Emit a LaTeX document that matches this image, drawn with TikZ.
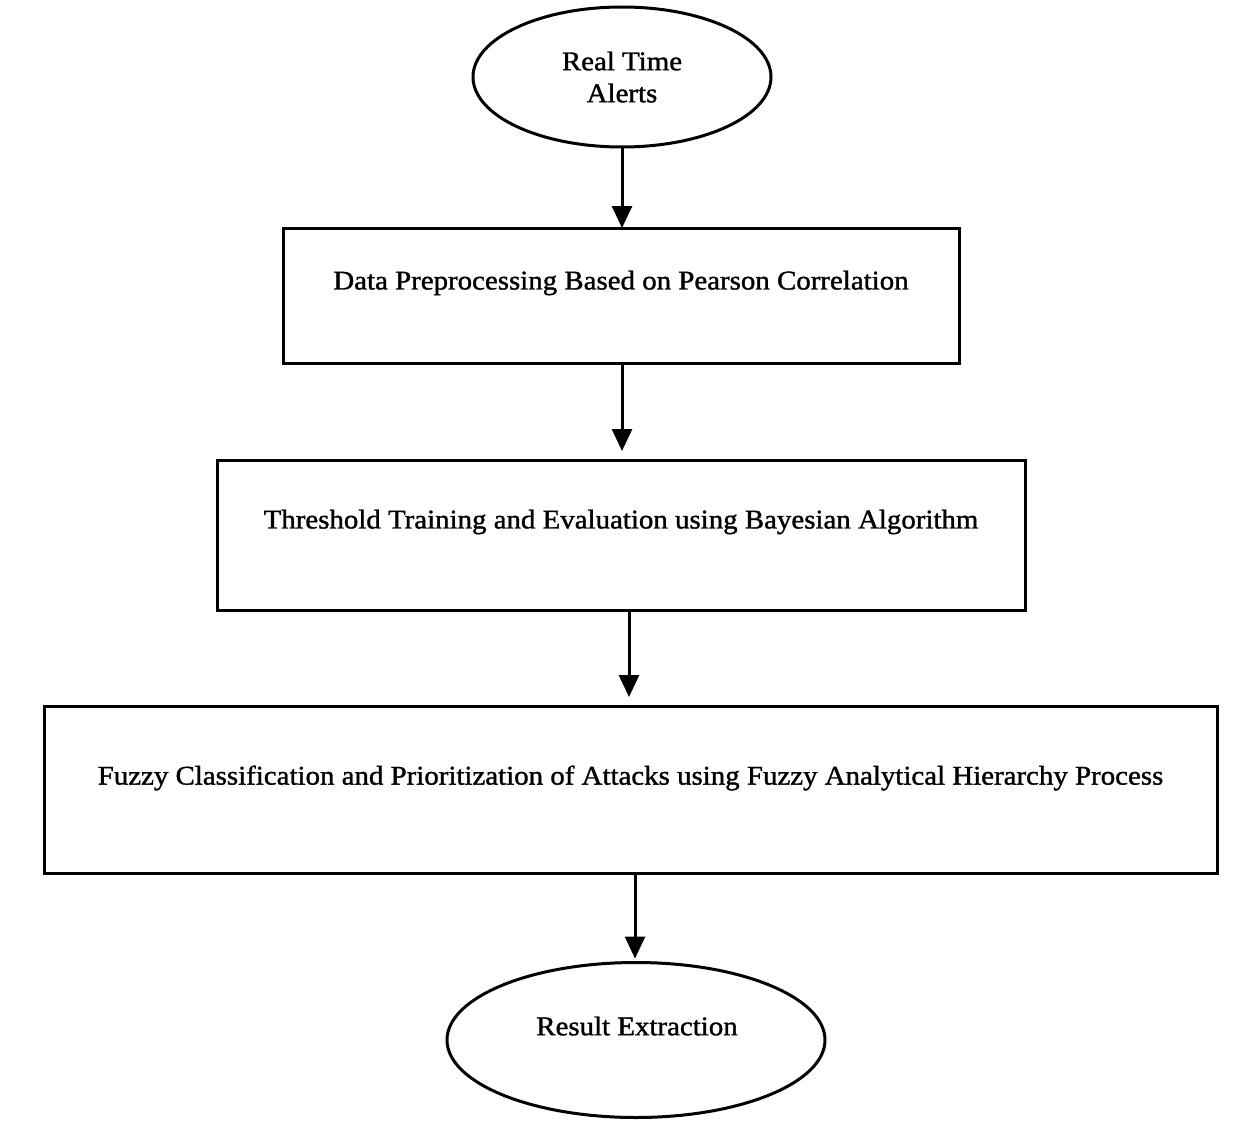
\documentclass[tikz,border=0pt]{standalone}
\usepackage{fontspec}
\setmainfont[FakeStretch=1.07, FakeBold=1.3]{Liberation Serif}
\usetikzlibrary{shapes.geometric,arrows.meta}
\begin{document}
\begin{tikzpicture}[x=1pt,y=-1pt,
  every node/.style={inner sep=0pt, outer sep=0pt},
  oval/.style={draw, line width=3pt, ellipse},
  stepbox/.style={draw, line width=3pt, rectangle},
  txt/.style={font=\fontsize{27}{32}\selectfont, align=center},
  flow/.style={line width=3pt, -{Triangle[width=20pt,length=22pt]}}
]
\useasboundingbox (0,0) rectangle (1256,1148);
\node[oval, minimum width=298pt, minimum height=140pt, txt] (start) at (622,77) {Real Time\\Alerts};
\node[stepbox, minimum width=676pt, minimum height=135pt] (b1) at (621,295.5) {};
\node[txt] (t1) at (621,283) {Data Preprocessing Based on Pearson Correlation};
\node[stepbox, minimum width=808pt, minimum height=150pt] (b2) at (621,535) {};
\node[txt] (t2) at (621,522) {Threshold Training and Evaluation using Bayesian Algorithm};
\node[stepbox, minimum width=1173pt, minimum height=167pt] (b3) at (630.5,789.5) {};
\node[txt] (t3) at (630.5,778) {Fuzzy Classification and Prioritization of Attacks using Fuzzy Analytical Hierarchy Process};
\node[oval, minimum width=378pt, minimum height=155pt] (end) at (636,1040) {};
\node[txt] (t4) at (637,1026) {Result Extraction};
\draw[flow] (start.south) -- (start.south |- b1.north);
\draw[flow] ([xshift=1pt]b1.south) -- ([xshift=1pt]b1.south |- b2.north) [shorten >=9pt];
\draw[flow] ([xshift=8pt]b2.south) -- ([xshift=8pt]b2.south |- b3.north) [shorten >=9pt];
\draw[flow] ([xshift=4.5pt]b3.south) -- ([xshift=4.5pt]b3.south |- end.north) [shorten >=4pt];
\end{tikzpicture}
\end{document}
